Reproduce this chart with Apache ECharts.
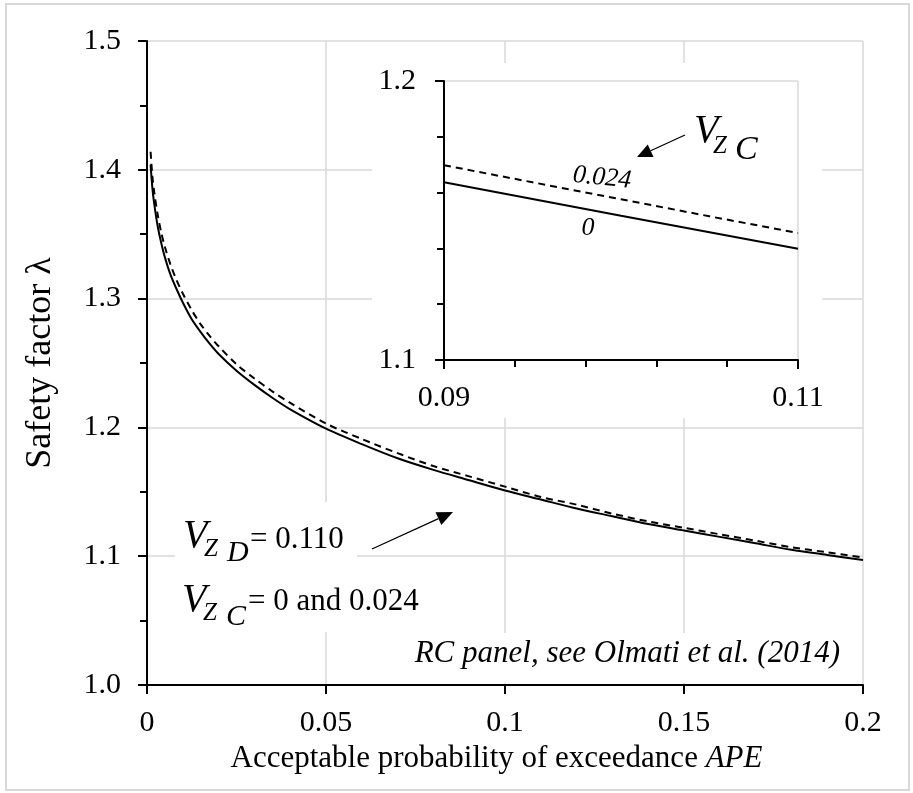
<!DOCTYPE html>
<html>
<head>
<meta charset="utf-8">
<script src="https://cdn.jsdelivr.net/npm/echarts@6/dist/echarts.min.js"></script>
<style>
html, body { margin: 0; padding: 0; background: #fff; }
#main { width: 913px; height: 793px; }
</style>
</head>
<body>
<div id="main"></div>
<script>
// acceptable probability of exceedance (x) for the main curves
var apeMain = [0.001, 0.0015, 0.002, 0.003, 0.004, 0.005, 0.0065, 0.008, 0.01, 0.0125,
  0.015, 0.0175, 0.02, 0.025, 0.03, 0.035, 0.04, 0.05, 0.06, 0.07, 0.08, 0.09, 0.1,
  0.11, 0.12, 0.13, 0.14, 0.15, 0.16, 0.17, 0.18, 0.19, 0.2];
// safety factor, V_ZC = 0 (solid)
var lambdaZc0 = [1.404, 1.386, 1.374, 1.356, 1.343, 1.332, 1.319, 1.309, 1.297, 1.284,
  1.274, 1.265, 1.257, 1.244, 1.233, 1.223, 1.214, 1.199, 1.187, 1.176, 1.167, 1.159, 1.151,
  1.144, 1.137, 1.131, 1.125, 1.120, 1.115, 1.110, 1.105, 1.101, 1.097];
// safety factor, V_ZC = 0.024 (dashed)
var lambdaZc024 = [1.414, 1.395, 1.383, 1.365, 1.351, 1.340, 1.327, 1.316, 1.304, 1.291,
  1.280, 1.271, 1.263, 1.249, 1.238, 1.228, 1.219, 1.203, 1.191, 1.180, 1.170, 1.162, 1.154,
  1.146, 1.140, 1.133, 1.127, 1.122, 1.117, 1.112, 1.107, 1.103, 1.099];

// zoomed inset
var apeInset = [0.09, 0.095, 0.1, 0.105, 0.11];
var insetZc0 = [1.1637, 1.1577, 1.1517, 1.1458, 1.1399];
var insetZc024 = [1.1698, 1.1637, 1.1576, 1.1515, 1.1455];

var serif = '"Liberation Serif", "Times New Roman", serif';
var grey = '#d9d9d9';

function pairs(xs, ys) {
  return xs.map(function (x, i) { return [x, ys[i]]; });
}

function txt(s, x, y, size, italic, align, rot) {
  return {
    type: 'text', z: 20, x: x, y: y, rotation: rot || 0,
    style: {
      text: s, fill: '#000',
      font: (italic ? 'italic ' : '') + size + 'px ' + serif,
      align: align || 'left', verticalAlign: 'middle'
    }
  };
}

function arrow(x1, y1, x2, y2, len, half) {
  var dx = x2 - x1, dy = y2 - y1;
  var d = Math.sqrt(dx * dx + dy * dy);
  var ux = dx / d, uy = dy / d;
  var bx = x2 - ux * len, by = y2 - uy * len;
  return [
    { type: 'line', z: 20, shape: { x1: x1, y1: y1, x2: bx, y2: by },
      style: { stroke: '#000', lineWidth: 1.3 } },
    { type: 'polygon', z: 20,
      shape: { points: [[x2, y2], [bx - uy * half, by + ux * half], [bx + uy * half, by - ux * half]] },
      style: { fill: '#000' } }
  ];
}

function fmt(v) { return String(+v.toFixed(3)); }

var axisLabel = { color: '#000', fontFamily: serif, fontSize: 30 };

var chart = echarts.init(document.getElementById('main'));

var graphics = [
  // outer frame
  { type: 'rect', z: 0, shape: { x: 6, y: 4, width: 903, height: 786 },
    style: { fill: 'none', stroke: grey, lineWidth: 2 } },
  // white backgrounds of the inset and the text boxes
  { type: 'rect', z: 3, shape: { x: 372, y: 63, width: 450, height: 355 }, style: { fill: '#fff' } },
  { type: 'rect', z: 3, shape: { x: 175, y: 502, width: 182, height: 130 }, style: { fill: '#fff' } },
  { type: 'rect', z: 3, shape: { x: 380, y: 633, width: 470, height: 50 }, style: { fill: '#fff' } },
  // V_ZD = 0.110
  txt('V', 183, 536, 40, true),
  txt('Z', 204, 549, 25, true),
  txt('D', 227, 553, 30, true),
  txt('= 0.110', 250, 540, 31, false),
  // V_ZC = 0 and 0.024
  txt('V', 182, 600, 40, true),
  txt('Z', 203, 613, 25, true),
  txt('C', 226, 617, 30, true),
  txt('= 0 and 0.024', 248, 602, 31, false),
  txt('RC panel, see Olmati et al. (2014)', 840, 654, 31, true, 'right'),
  // inset labels
  txt('V', 694, 131, 40, true),
  txt('Z', 713, 146, 25, true),
  txt('C', 735, 150, 34, true),
  txt('0.024', 602, 178, 26, true, 'center', -0.1),
  txt('0', 588, 228, 26, true, 'center')
].concat(arrow(372, 549, 453, 512, 16, 7)).concat(arrow(685, 135, 637, 157, 15, 7));

var option = {
  backgroundColor: '#fff',
  animation: false,
  grid: [
    { left: 147, top: 41, width: 716, height: 644, containLabel: false, outerBoundsMode: 'none' },
    { left: 444, top: 81, width: 354, height: 279, containLabel: false, outerBoundsMode: 'none', z: 5 }
  ],
  xAxis: [
    {
      type: 'value', gridIndex: 0, min: 0, max: 0.2, interval: 0.05,
      name: 'Acceptable probability of exceedance {i|APE}',
      nameLocation: 'middle', nameGap: 57,
      nameTextStyle: {
        color: '#000', fontFamily: serif, fontSize: 31, padding: [0, 17, 0, 0],
        rich: { i: { fontFamily: serif, fontSize: 31, fontStyle: 'italic', color: '#000' } }
      },
      axisLine: { show: true, onZero: false, lineStyle: { color: '#000', width: 2 } },
      axisTick: { show: true, inside: false, length: 9, lineStyle: { color: '#000', width: 2 } },
      axisLabel: Object.assign({ margin: 23, formatter: fmt }, axisLabel),
      splitLine: { show: true, lineStyle: { color: grey, width: 1.5 } }
    },
    {
      type: 'value', gridIndex: 1, min: 0.09, max: 0.11, interval: 0.02, z: 5,
      axisLine: { show: true, onZero: false, lineStyle: { color: '#000', width: 2 } },
      axisTick: { show: true, inside: false, length: 9, lineStyle: { color: '#000', width: 2 } },
      minorTick: { show: true, splitNumber: 5, length: 7, lineStyle: { color: '#000', width: 2 } },
      axisLabel: Object.assign({ margin: 23, formatter: function (v) { return v.toFixed(2); } }, axisLabel),
      splitLine: { show: true, lineStyle: { color: grey, width: 1.5 } }
    }
  ],
  yAxis: [
    {
      type: 'value', gridIndex: 0, min: 1.0, max: 1.5, interval: 0.1,
      name: 'Safety factor λ', nameLocation: 'middle', nameGap: 88,
      nameTextStyle: { color: '#000', fontFamily: serif, fontSize: 36 },
      axisLine: { show: true, onZero: false, lineStyle: { color: '#000', width: 2 } },
      axisTick: { show: true, inside: false, length: 9, lineStyle: { color: '#000', width: 2 } },
      minorTick: { show: true, splitNumber: 2, length: 7, lineStyle: { color: '#000', width: 2 } },
      axisLabel: Object.assign({ margin: 26, formatter: function (v) { return v.toFixed(1); } }, axisLabel),
      splitLine: { show: true, lineStyle: { color: grey, width: 1.5 } }
    },
    {
      type: 'value', gridIndex: 1, min: 1.1, max: 1.2, interval: 0.1, z: 5,
      axisLine: { show: true, onZero: false, lineStyle: { color: '#000', width: 2 } },
      axisTick: { show: true, inside: false, length: 9, lineStyle: { color: '#000', width: 2 } },
      minorTick: { show: true, splitNumber: 5, length: 7, lineStyle: { color: '#000', width: 2 } },
      axisLabel: Object.assign({ margin: 28, formatter: function (v) { return v.toFixed(1); } }, axisLabel),
      splitLine: { show: true, lineStyle: { color: grey, width: 1.5 } }
    }
  ],
  graphic: { elements: graphics },
  series: [
    {
      name: 'V_ZC = 0', type: 'line', xAxisIndex: 0, yAxisIndex: 0, z: 2,
      data: pairs(apeMain, lambdaZc0), showSymbol: false, smooth: 0.3,
      lineStyle: { color: '#000', width: 2 }
    },
    {
      name: 'V_ZC = 0.024', type: 'line', xAxisIndex: 0, yAxisIndex: 0, z: 2,
      data: pairs(apeMain, lambdaZc024), showSymbol: false, smooth: 0.3,
      lineStyle: { color: '#000', width: 2, type: [7, 5] }
    },
    {
      name: 'inset V_ZC = 0', type: 'line', xAxisIndex: 1, yAxisIndex: 1, z: 6,
      data: pairs(apeInset, insetZc0), showSymbol: false,
      lineStyle: { color: '#000', width: 2 }
    },
    {
      name: 'inset V_ZC = 0.024', type: 'line', xAxisIndex: 1, yAxisIndex: 1, z: 6,
      data: pairs(apeInset, insetZc024), showSymbol: false,
      lineStyle: { color: '#000', width: 2, type: [7, 5] }
    }
  ]
};

chart.setOption(option);
</script>
</body>
</html>
